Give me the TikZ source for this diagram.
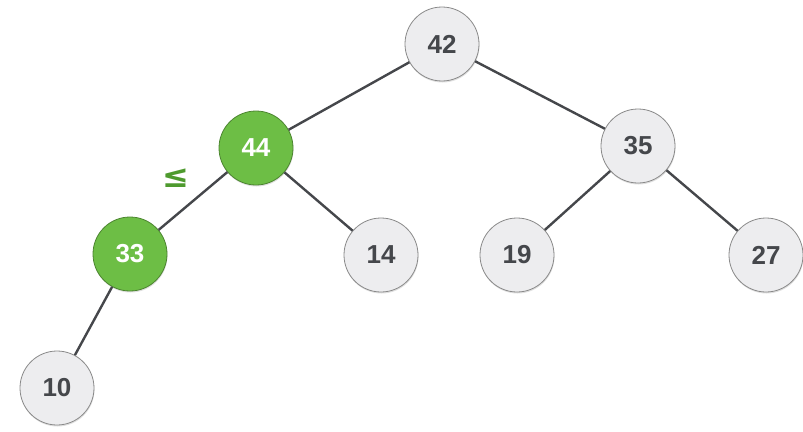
\documentclass[tikz,border=0pt]{standalone}
\usepackage{fontspec}
\setmainfont{Liberation Sans}
\newfontfamily\symfont{DejaVu Sans}
\usetikzlibrary{shadows}
\definecolor{nodefill}{HTML}{EDEDEF}
\definecolor{nodeborder}{HTML}{8A8A8A}
\definecolor{textgray}{HTML}{45474B}
\definecolor{heapgreen}{HTML}{6DBE45}
\definecolor{edgegray}{HTML}{45474B}
\definecolor{symgreen}{HTML}{4E9A2E}
\begin{document}
\begin{tikzpicture}[x=1pt,y=1pt,
  heapnode/.style={circle,minimum size=74pt,inner sep=0pt,draw=nodeborder,line width=0.8pt,
    fill=nodefill,text=textgray,font=\fontsize{26}{28}\selectfont\bfseries,
    drop shadow={opacity=0.25,shadow xshift=0.5pt,shadow yshift=-1.5pt}},
  hotnode/.style={heapnode,fill=heapgreen,draw=heapgreen!70!black,text=white},
  edge/.style={draw=edgegray,line width=2.4pt}]
\useasboundingbox (0,0) rectangle (803,-431);
\node[heapnode] (n42) at (442,-44) {42};
\node[hotnode] (n44) at (256,-148) {44};
\node[heapnode] (n35) at (638,-146) {35};
\node[hotnode] (n33) at (130,-254) {33};
\node[heapnode] (n14) at (381,-255) {14};
\node[heapnode] (n19) at (517,-255) {19};
\node[heapnode] (n27) at (766,-255) {27};
\node[heapnode] (n10) at (57,-388) {10};
\draw[edge] (n42) -- (n44);
\draw[edge] (n42) -- (n35);
\draw[edge] (n44) -- (n33);
\draw[edge] (n44) -- (n14);
\draw[edge] (n35) -- (n19);
\draw[edge] (n35) -- (n27);
\draw[edge] (n33) -- (n10);
\node[text=symgreen,font=\symfont\fontsize{32}{34}\selectfont\bfseries] (le) at (176,-178) {≤};
\end{tikzpicture}
\end{document}
